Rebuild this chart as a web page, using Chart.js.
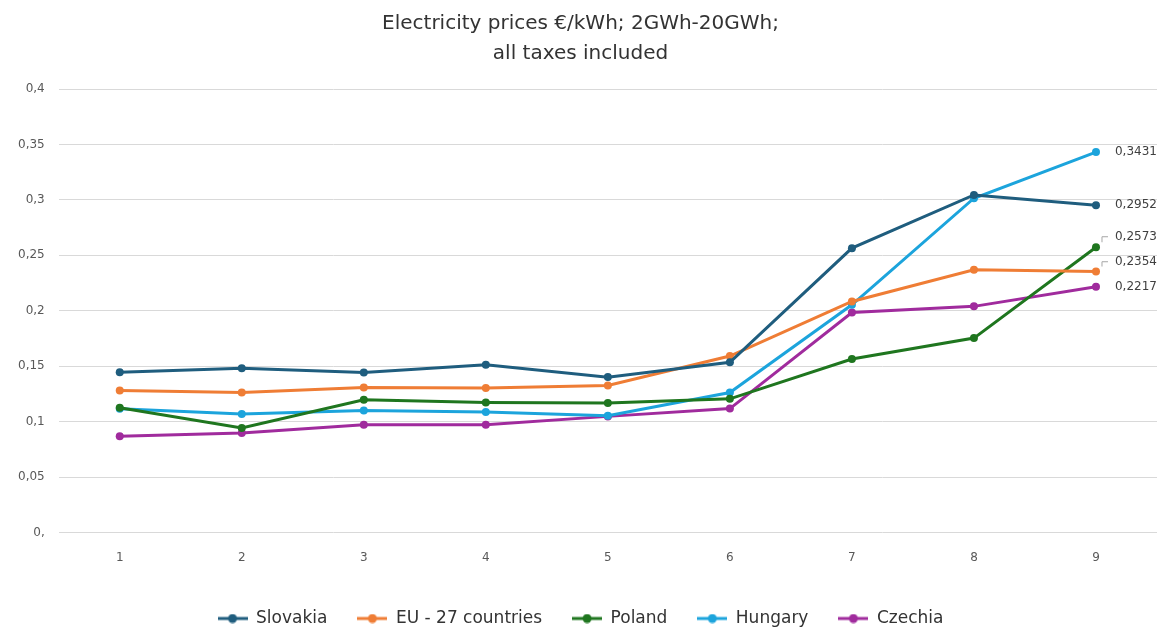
<!DOCTYPE html>
<html>
<head>
<meta charset="utf-8">
<script src="https://cdn.jsdelivr.net/npm/chart.js@4/dist/chart.umd.min.js"></script>
<style>
  html, body { margin: 0; padding: 0; background: #fff; }
  #wrap { width: 1167px; height: 633px; position: relative; }
</style>
</head>
<body>
<div id="wrap"><canvas id="chart"></canvas></div>
<script>
// data
const categories = ['1', '2', '3', '4', '5', '6', '7', '8', '9'];
const yTickLabels = ['0,', '0,05', '0,1', '0,15', '0,2', '0,25', '0,3', '0,35', '0,4'];

const slovakia = [0.1447, 0.1483, 0.1444, 0.1514, 0.1402, 0.1536, 0.2565, 0.3045, 0.2952];
const eu27     = [0.1282, 0.1264, 0.1309, 0.1303, 0.1327, 0.1592, 0.2084, 0.2370, 0.2354];
const poland   = [0.1125, 0.0943, 0.1198, 0.1174, 0.1168, 0.1206, 0.1565, 0.1754, 0.2573];
const hungary  = [0.1117, 0.1069, 0.1102, 0.1087, 0.1054, 0.1263, 0.2054, 0.3015, 0.3431];
const czechia  = [0.0868, 0.0898, 0.0973, 0.0973, 0.1048, 0.1118, 0.1985, 0.2040, 0.2217];

const seriesNames = ['Slovakia', 'EU - 27 countries', 'Poland', 'Hungary', 'Czechia'];
const seriesData = [slovakia, eu27, poland, hungary, czechia];
const seriesColors = ['#1f5d7e', '#ef7d35', '#1f761f', '#1ca4dc', '#a02b9d'];

const FONT = "'DejaVu Sans', sans-serif";

// line-with-dot marker for the legend
function legendMarker(color) {
    const c = document.createElement('canvas');
    c.width = 30; c.height = 10;
    const g = c.getContext('2d');
    g.strokeStyle = color;
    g.lineWidth = 3;
    g.beginPath(); g.moveTo(0, 5); g.lineTo(30, 5); g.stroke();
    g.fillStyle = color;
    g.beginPath(); g.arc(15, 5, 4.5, 0, Math.PI * 2); g.fill();
    return c;
}

// value labels at the last point, nudged apart when they collide
const endLabels = {
    id: 'endLabels',
    afterDatasetsDraw(chart) {
        const ctx = chart.ctx;
        const items = chart.data.datasets.map((ds, i) => {
            const meta = chart.getDatasetMeta(i);
            const pt = meta.data[meta.data.length - 1];
            const v = ds.data[ds.data.length - 1];
            return { x: pt.x, y: pt.y, ly: pt.y, text: v.toFixed(4).replace('.', ',') };
        }).sort((a, b) => b.y - a.y);
        const gap = 25;
        for (let i = 1; i < items.length; i++) {
            if (items[i].ly > items[i - 1].ly - gap) items[i].ly = items[i - 1].ly - gap;
        }
        ctx.save();
        ctx.font = '12px ' + FONT;
        ctx.fillStyle = '#404040';
        ctx.textBaseline = 'middle';
        ctx.textAlign = 'left';
        items.forEach(it => {
            ctx.fillText(it.text, it.x + 19, it.ly);
            if (it.y - it.ly > 4) {
                ctx.strokeStyle = '#a6a6a6';
                ctx.lineWidth = 1;
                ctx.beginPath();
                ctx.moveTo(it.x + 6, it.y - 5);
                ctx.lineTo(it.x + 6, it.ly);
                ctx.lineTo(it.x + 12, it.ly);
                ctx.stroke();
            }
        });
        ctx.restore();
    }
};

const ctx = document.getElementById('chart').getContext('2d');

new Chart(ctx, {
    type: 'line',
    data: {
        labels: categories,
        datasets: seriesNames.map((name, i) => ({
            label: name,
            data: seriesData[i],
            borderColor: seriesColors[i],
            backgroundColor: seriesColors[i],
            borderWidth: 3,
            pointRadius: 4,
            pointHoverRadius: 4,
            pointBorderWidth: 0,
            tension: 0,
            fill: false,
        })),
    },
    options: {
        responsive: true,
        maintainAspectRatio: false,
        animation: false,
        layout: { padding: { left: 4, right: 10, top: 9, bottom: -4 } },
        plugins: {
            title: {
                display: true,
                text: ['Electricity prices €/kWh; 2GWh-20GWh;', 'all taxes included'],
                color: '#333333',
                font: { family: FONT, size: 20, weight: 'normal', lineHeight: 1.5 },
                padding: { top: 0, bottom: 20 },
            },
            legend: {
                display: true,
                position: 'bottom',
                labels: {
                    color: '#333333',
                    font: { family: FONT, size: 17 },
                    usePointStyle: true,
                    pointStyleWidth: 30,
                    padding: 30,
                    generateLabels(chart) {
                        return chart.data.datasets.map((ds, i) => ({
                            text: ds.label,
                            fillStyle: ds.borderColor,
                            strokeStyle: ds.borderColor,
                            pointStyle: legendMarker(ds.borderColor),
                            datasetIndex: i,
                            hidden: false,
                            lineWidth: 0,
                            fontColor: '#333333',
                        }));
                    },
                },
            },
            tooltip: { enabled: false },
        },
        scales: {
            x: {
                offset: true,
                grid: { display: false },
                border: { display: false },
                ticks: { color: '#595959', font: { family: FONT, size: 12 }, padding: 10 },
                afterFit(scale) { scale.height += 5; },
            },
            y: {
                min: 0,
                max: 0.4,
                border: { display: false },
                grid: { color: '#d9d9d9', lineWidth: 1, drawTicks: false },
                ticks: {
                    stepSize: 0.05,
                    color: '#595959',
                    font: { family: FONT, size: 12 },
                    padding: 14,
                    callback: (v, i) => yTickLabels[i],
                },
            },
        },
    },
    plugins: [endLabels],
});
</script>
</body>
</html>
